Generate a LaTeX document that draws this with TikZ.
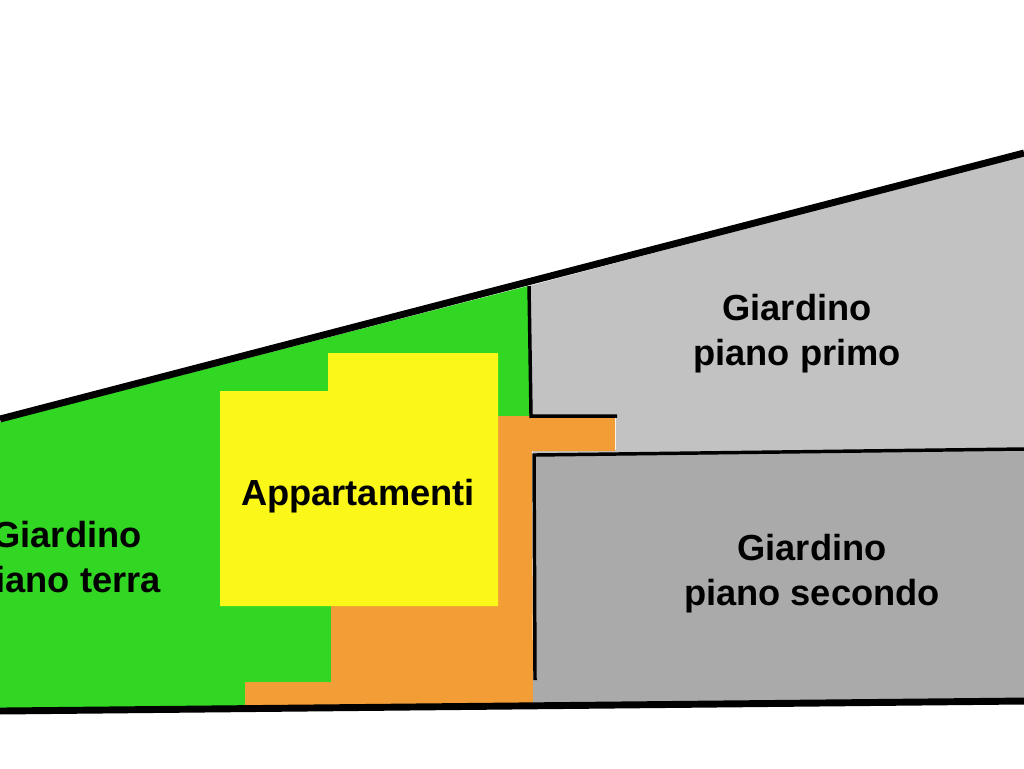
\documentclass[tikz,border=0pt]{standalone}
\usepackage{fontspec}
\setmainfont{Liberation Sans}
\definecolor{gr}{RGB}{50,215,35}
\definecolor{yl}{RGB}{250,247,25}
\definecolor{orng}{RGB}{243,157,55}
\definecolor{lg}{RGB}{194,194,194}
\definecolor{dg}{RGB}{170,170,170}
\tikzset{lbl/.style={font=\fontsize{27.2pt}{33.7pt}\selectfont\bfseries,align=center,text=black,inner sep=0pt},
 wall/.style={draw=black,line width=2.6pt},
 outer/.style={draw=black,line width=5.2pt}}
\begin{document}
\begin{tikzpicture}[x=1pt,y=-1pt,scale=0.75]
\useasboundingbox (0,0) rectangle (1024,768);
\fill[gr] (0,422) -- (528,286) -- (531,416) -- (498,416) -- (498,606) -- (331,606) -- (331,682) -- (245,682) -- (245,708) -- (0,710) -- cycle;
\fill[lg] (529,286) -- (1024,155) -- (1024,449) -- (533,456) -- (533,450) -- (616,450) -- (616,415) -- (531,415) -- cycle;
\fill[dg] (533,456) -- (1024,448) -- (1024,702) -- (533,705) -- cycle;
\fill[orng] (498,416) -- (532,416) -- (532,418) -- (615,418) -- (615,451) -- (532,451) -- (533,706) -- (245,708) -- (245,682) -- (331,682) -- (331,606) -- (498,606) -- cycle;
\fill[yl] (220,391) -- (328,391) -- (328,353) -- (498,353) -- (498,606) -- (220,606) -- cycle;
\coordinate (tl) at (0,419);
\coordinate (tr) at (1024,153);
\coordinate (bl) at (0,711);
\coordinate (br) at (1024,701);
\coordinate (w1) at (529,286);
\coordinate (w2) at (531,416);
\coordinate (w3) at (617,416);
\coordinate (w4) at (535,680);
\coordinate (w5) at (534,455);
\coordinate (w6) at (1024,449);
\draw[wall] (w1) -- (w2) -- (w3);
\draw[wall] (w4) -- (w5) -- (w6);
\draw[outer] (tl) -- (tr);
\draw[outer] (bl) -- (br);
\node[lbl] (a) at (358,496) {Appartamenti};
\node[lbl] (b) at (67,561) {Giardino\\piano terra};
\node[lbl] (c) at (797,334) {Giardino\\piano primo};
\node[lbl] (d) at (812,574) {Giardino\\piano secondo};
\end{tikzpicture}
\end{document}
